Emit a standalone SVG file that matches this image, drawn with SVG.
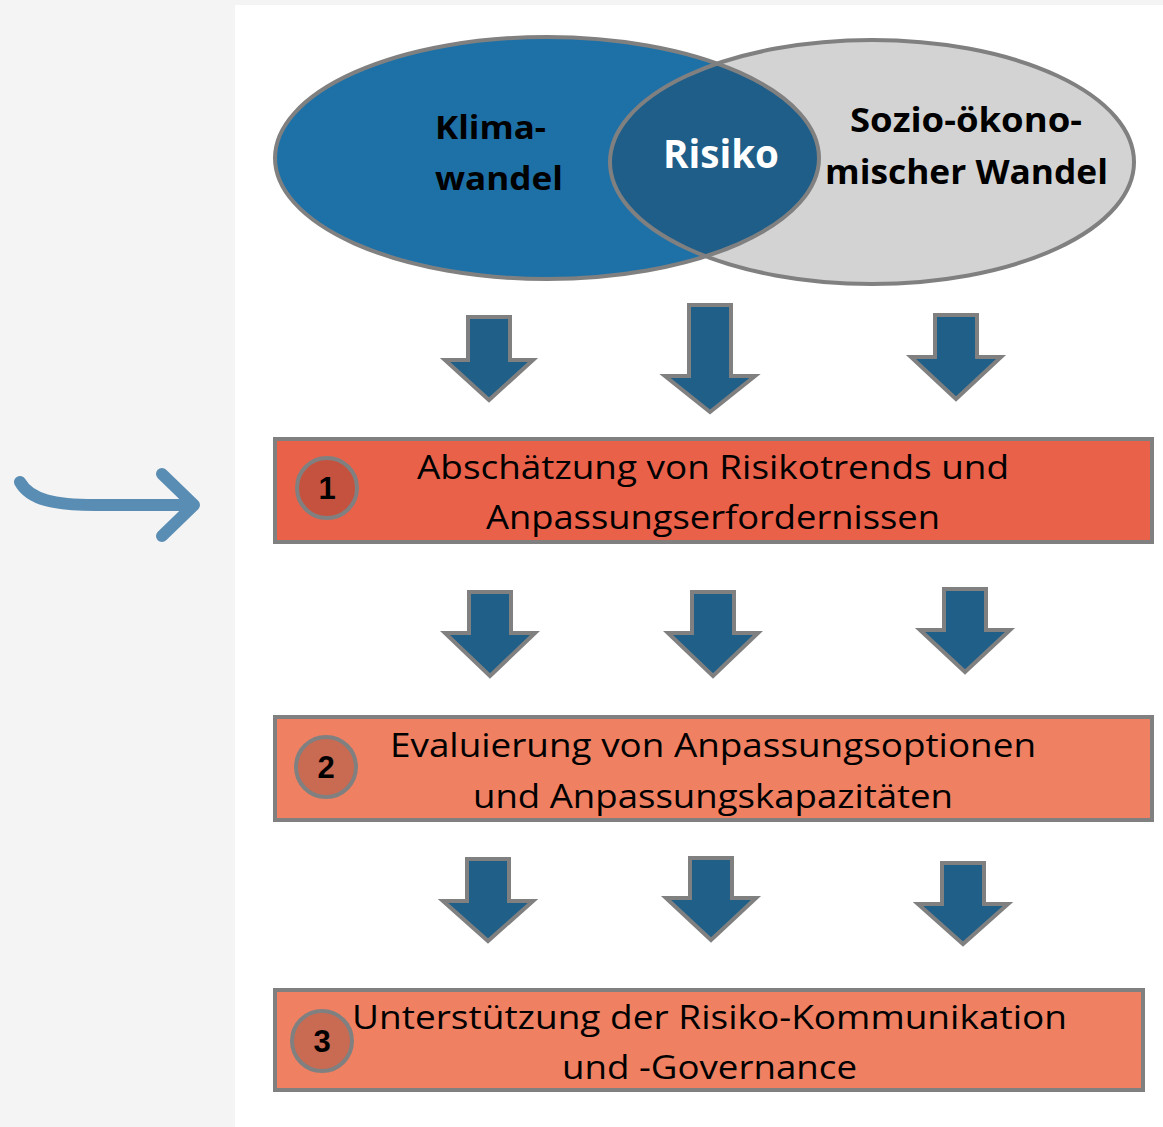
<svg xmlns="http://www.w3.org/2000/svg" width="1163" height="1127" viewBox="0 0 1163 1127">
<style>
.bold{font-family:"Open Sans","Noto Sans",sans-serif;font-weight:700;}
.reg{font-family:"Open Sans","Noto Sans",sans-serif;font-weight:400;font-size:33px;fill:#000;}
.num{font-family:"Liberation Sans",Arial,sans-serif;font-weight:700;font-size:31px;fill:#000;}
.arr{fill:#1f5f88;stroke:#808080;stroke-width:4;}
.box{stroke:#808080;stroke-width:4;}
.circ{stroke:#808080;stroke-width:4;}
</style>
<defs>
<clipPath id="clipR"><ellipse cx="872" cy="162" rx="262" ry="122"/></clipPath>
</defs>
<rect x="0" y="0" width="1163" height="1127" fill="#f4f4f4"/>
<rect x="235" y="5" width="928" height="1122" fill="#ffffff"/>

<g id="venn">
<ellipse cx="872" cy="162" rx="262" ry="122" fill="#d3d3d3"/>
<ellipse cx="547" cy="158" rx="272" ry="121" fill="#1e71a7"/>
<ellipse cx="547" cy="158" rx="272" ry="121" fill="#1f5e88" clip-path="url(#clipR)"/>
<ellipse cx="872" cy="162" rx="262" ry="122" fill="none" stroke="#808080" stroke-width="4"/>
<ellipse cx="547" cy="158" rx="272" ry="121" fill="none" stroke="#808080" stroke-width="4"/>
</g>
<g id="klima">
<text class="bold" font-size="32" x="435" y="139" textLength="111" lengthAdjust="spacingAndGlyphs">Klima-</text>
<text class="bold" font-size="32" x="435" y="190" textLength="128" lengthAdjust="spacingAndGlyphs">wandel</text>
</g>
<g id="risiko">
<text class="bold" font-size="39" x="663" y="168" fill="#ffffff" textLength="116" lengthAdjust="spacingAndGlyphs">Risiko</text>
</g>
<g id="sozio">
<text class="bold" font-size="34" x="850" y="132" textLength="232" lengthAdjust="spacingAndGlyphs">Sozio-ökono-</text>
<text class="bold" font-size="34" x="825" y="184" textLength="283" lengthAdjust="spacingAndGlyphs">mischer Wandel</text>
</g>

<g id="connectors">
<polygon class="arr" points="468,317 510,317 510,360 533,360 489,400 445,360 468,360"/>
<polygon class="arr" points="689,305 731,305 731,376 755,376 710,412 665,376 689,376"/>
<polygon class="arr" points="935,315 977,315 977,357 1001,357 956,399 911,357 935,357"/>

<polygon class="arr" points="469,592 511,592 511,633 535,633 490,676 445,633 469,633"/>
<polygon class="arr" points="692,592 734,592 734,633 758,633 713,676 668,633 692,633"/>
<polygon class="arr" points="944,589 986,589 986,630 1010,630 965,672 920,630 944,630"/>

<polygon class="arr" points="467,859 509,859 509,901 533,901 488,941 443,901 467,901"/>
<polygon class="arr" points="690,858 732,858 732,898 756,898 711,940 666,898 690,898"/>
<polygon class="arr" points="942,863 984,863 984,904 1008,904 963,944 918,904 942,904"/>

<path d="M20,482 C30,500 55,505 95,505 L194,505 M162,474 L194,505 L162,536" fill="none" stroke="#5a8db3" stroke-width="12" stroke-linecap="round" stroke-linejoin="round"/>
</g>

<g id="step1">
<rect class="box" x="275" y="439" width="877" height="103" fill="#ea614a"/>
<circle class="circ" cx="327" cy="488" r="30" fill="#c5523e"/>
<text class="num" x="327" y="499" text-anchor="middle">1</text>
<text class="reg" x="417" y="479" textLength="592" lengthAdjust="spacingAndGlyphs">Abschätzung von Risikotrends und</text>
<text class="reg" x="486" y="529" textLength="454" lengthAdjust="spacingAndGlyphs">Anpassungserfordernissen</text>
</g>

<g id="step2">
<rect class="box" x="275" y="717" width="877" height="103" fill="#f08062"/>
<circle class="circ" cx="326" cy="767" r="30" fill="#c96a52"/>
<text class="num" x="326" y="778" text-anchor="middle">2</text>
<text class="reg" x="390" y="757" textLength="646" lengthAdjust="spacingAndGlyphs">Evaluierung von Anpassungsoptionen</text>
<text class="reg" x="473" y="808" textLength="480" lengthAdjust="spacingAndGlyphs">und Anpassungskapazitäten</text>
</g>

<g id="step3">
<rect class="box" x="275" y="990" width="868" height="100" fill="#f08062"/>
<circle class="circ" cx="322" cy="1041" r="30" fill="#c96a52"/>
<text class="num" x="322" y="1052" text-anchor="middle">3</text>
<text class="reg" x="352" y="1029" textLength="715" lengthAdjust="spacingAndGlyphs">Unterstützung der Risiko-Kommunikation</text>
<text class="reg" x="562" y="1079" textLength="295" lengthAdjust="spacingAndGlyphs">und -Governance</text>
</g>
</svg>
